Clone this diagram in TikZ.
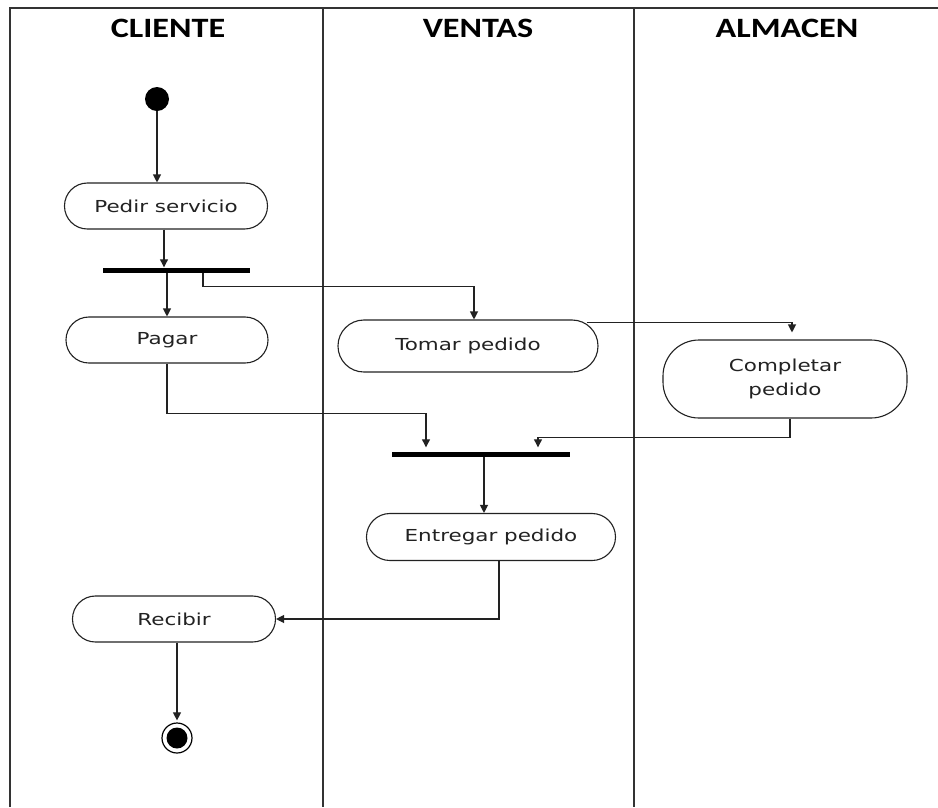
\documentclass[tikz,border=0pt]{standalone}
\usepackage{fontspec}
\usetikzlibrary{arrows.meta,calc}
\newfontfamily\lanefont[FakeStretch=1.22]{Carlito}
\newfontfamily\actfont[FakeStretch=1.3]{DejaVu Sans}
\definecolor{ink}{HTML}{222222}
\definecolor{frameink}{HTML}{333333}
\tikzset{
  lane/.style={draw=frameink, line width=2pt},
  lanetitle/.style={font=\lanefont\bfseries\fontsize{28}{30}\selectfont, text=black, anchor=center},
  activity/.style={draw=ink, line width=1.1pt, rounded corners=22.9pt, fill=white,
    font=\actfont\fontsize{16.5}{24}\selectfont, text=ink, align=center, inner sep=0pt},
  syncbar/.style={fill=black, draw=none, inner sep=0pt, minimum height=5pt},
  flow/.style={draw=ink, line width=1.1pt, -{Triangle[length=8pt,width=8pt]}},
}
\begin{document}
\begin{tikzpicture}[x=1pt,y=-1pt]
\useasboundingbox (0,0) rectangle (938,807);
\fill[white] (0,0) rectangle (938,807);

% swimlane frame
\draw[lane] (10,807) -- (10,8) -- (938,8);
\draw[lane] (323,8) -- (323,807);
\draw[lane] (634,8) -- (634,807);

\node[lanetitle] (tCliente) at (168,28) {CLIENTE};
\node[lanetitle] (tVentas) at (478,28) {VENTAS};
\node[lanetitle] (tAlmacen) at (787,28) {ALMACEN};

% initial and final states
\node[circle, fill=black, inner sep=0pt, minimum size=24pt] (start) at (157,99) {};
\node[circle, draw=black, line width=1.2pt, fill=white, inner sep=0pt, minimum size=30pt] (fin) at (177,738) {};
\fill[black] (fin.center) circle (10.5pt);

% activities
\node[activity, minimum width=203pt, minimum height=46pt] (pedir) at (166,206) {Pedir servicio};
\node[syncbar, minimum width=147pt] (fork) at (176.5,270) {};
\node[activity, minimum width=202pt, minimum height=46pt] (pagar) at (167,340) {Pagar};
\node[activity, minimum width=260pt, minimum height=52pt, rounded corners=25.9pt] (tomar) at (468,346) {Tomar pedido};
\node[activity, minimum width=244pt, minimum height=78pt, rounded corners=36pt] (completar) at (785,379) {Completar\\pedido};
\node[syncbar, minimum width=178pt] (join) at (481,454) {};
\node[activity, minimum width=249pt, minimum height=47pt, rounded corners=23.4pt] (entregar) at (491,537) {Entregar pedido};
\node[activity, minimum width=203pt, minimum height=46pt] (recibir) at (174,619) {Recibir};

% control flow
\draw[flow] (start.south) -- (start.south |- pedir.north);
\draw[flow] ([xshift=-2pt]pedir.south) -- ([xshift=-2pt]pedir.south |- fork.north);
\draw[flow] (pagar.north |- fork.south) -- (pagar.north);
\draw[flow] ([xshift=26.5pt]fork.south) -- ++(0,14) -| ([xshift=6pt]tomar.north);
\draw[flow] ($(tomar.north east)+(-12,3)$) -| ([xshift=7pt,yshift=7pt]completar.north);
\draw[flow] (pagar.south) -- ++(0,50) -| ([xshift=-55pt,yshift=4pt]join.north);
\draw[flow] ([xshift=5pt]completar.south) -- ++(0,19) -| ([xshift=57pt,yshift=4pt]join.north);
\draw[flow] ([xshift=3pt]join.south) -- ([xshift=3pt]join.south |- entregar.north);
\draw[flow] ([xshift=8pt]entregar.south) |- (recibir.east);
\draw[flow] (fin.north |- recibir.south) -- ([yshift=2pt]fin.north);
\end{tikzpicture}
\end{document}
